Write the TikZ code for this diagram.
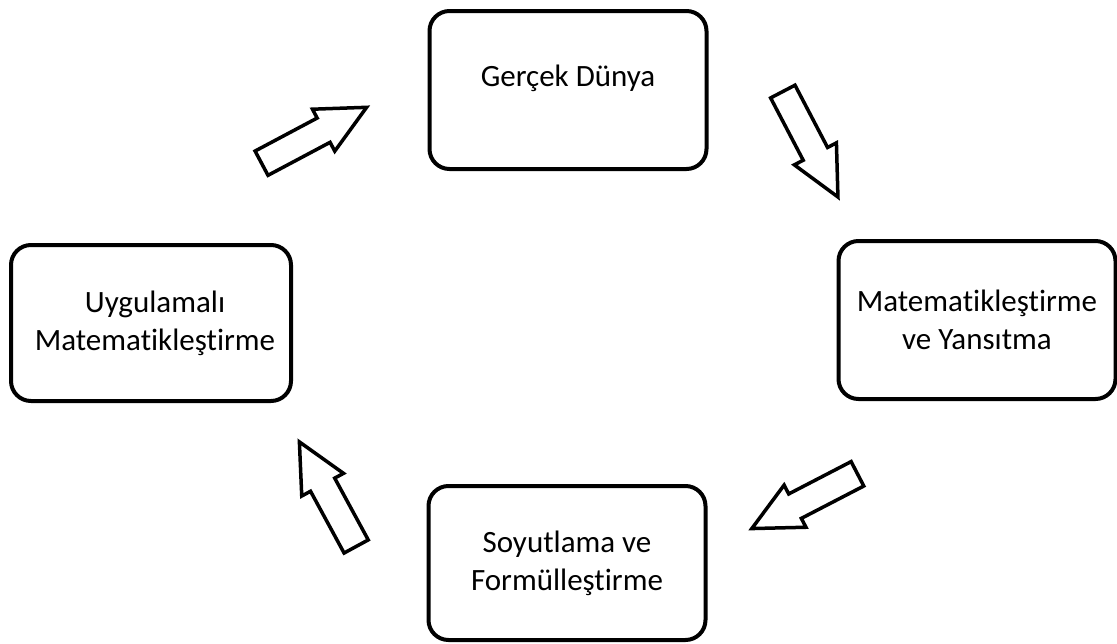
\documentclass[tikz,border=0pt]{standalone}
\usepackage{fontspec}
\setmainfont{Carlito}[Ligatures=NoCommon]
\usetikzlibrary{shapes.arrows}
\begin{document}
\begin{tikzpicture}[x=1pt,y=-1pt,
  box/.style={draw, line width=4pt, rounded corners=20pt, minimum width=277pt,
    minimum height=158pt, align=center, font=\fontsize{31}{38}\selectfont, inner sep=0pt},
  blockarr/.style={draw, line width=3.5pt, single arrow, single arrow head extend=10pt,
    single arrow tip angle=52, minimum height=119pt, minimum width=44pt,
    inner sep=12pt, anchor=tail}]
\useasboundingbox (0,0) rectangle (1117,643);
\node[box] (real) at (568,90) {Gerçek Dünya\\[-20pt]\strut};
\node[box] (math) at (977,320) {Matematikleştirme\\ve Yansıtma};
\node[box, minimum width=280pt, minimum height=156pt] (appl) at (151,323) {\hspace*{8pt}Uygulamalı\\\hspace*{8pt}Matematikleştirme};
\node[box, minimum height=154pt] (abst) at (567,563) {Soyutlama ve\\Formülleştirme};
\node[blockarr, rotate=28] (a1) at (260,164) {};
\node[blockarr, rotate=-62.4] (a2) at (782,90) {};
\node[blockarr, rotate=207.4] (a3) at (859,473) {};
\node[blockarr, rotate=118.5] (a4) at (357,548) {};
\end{tikzpicture}
\end{document}
